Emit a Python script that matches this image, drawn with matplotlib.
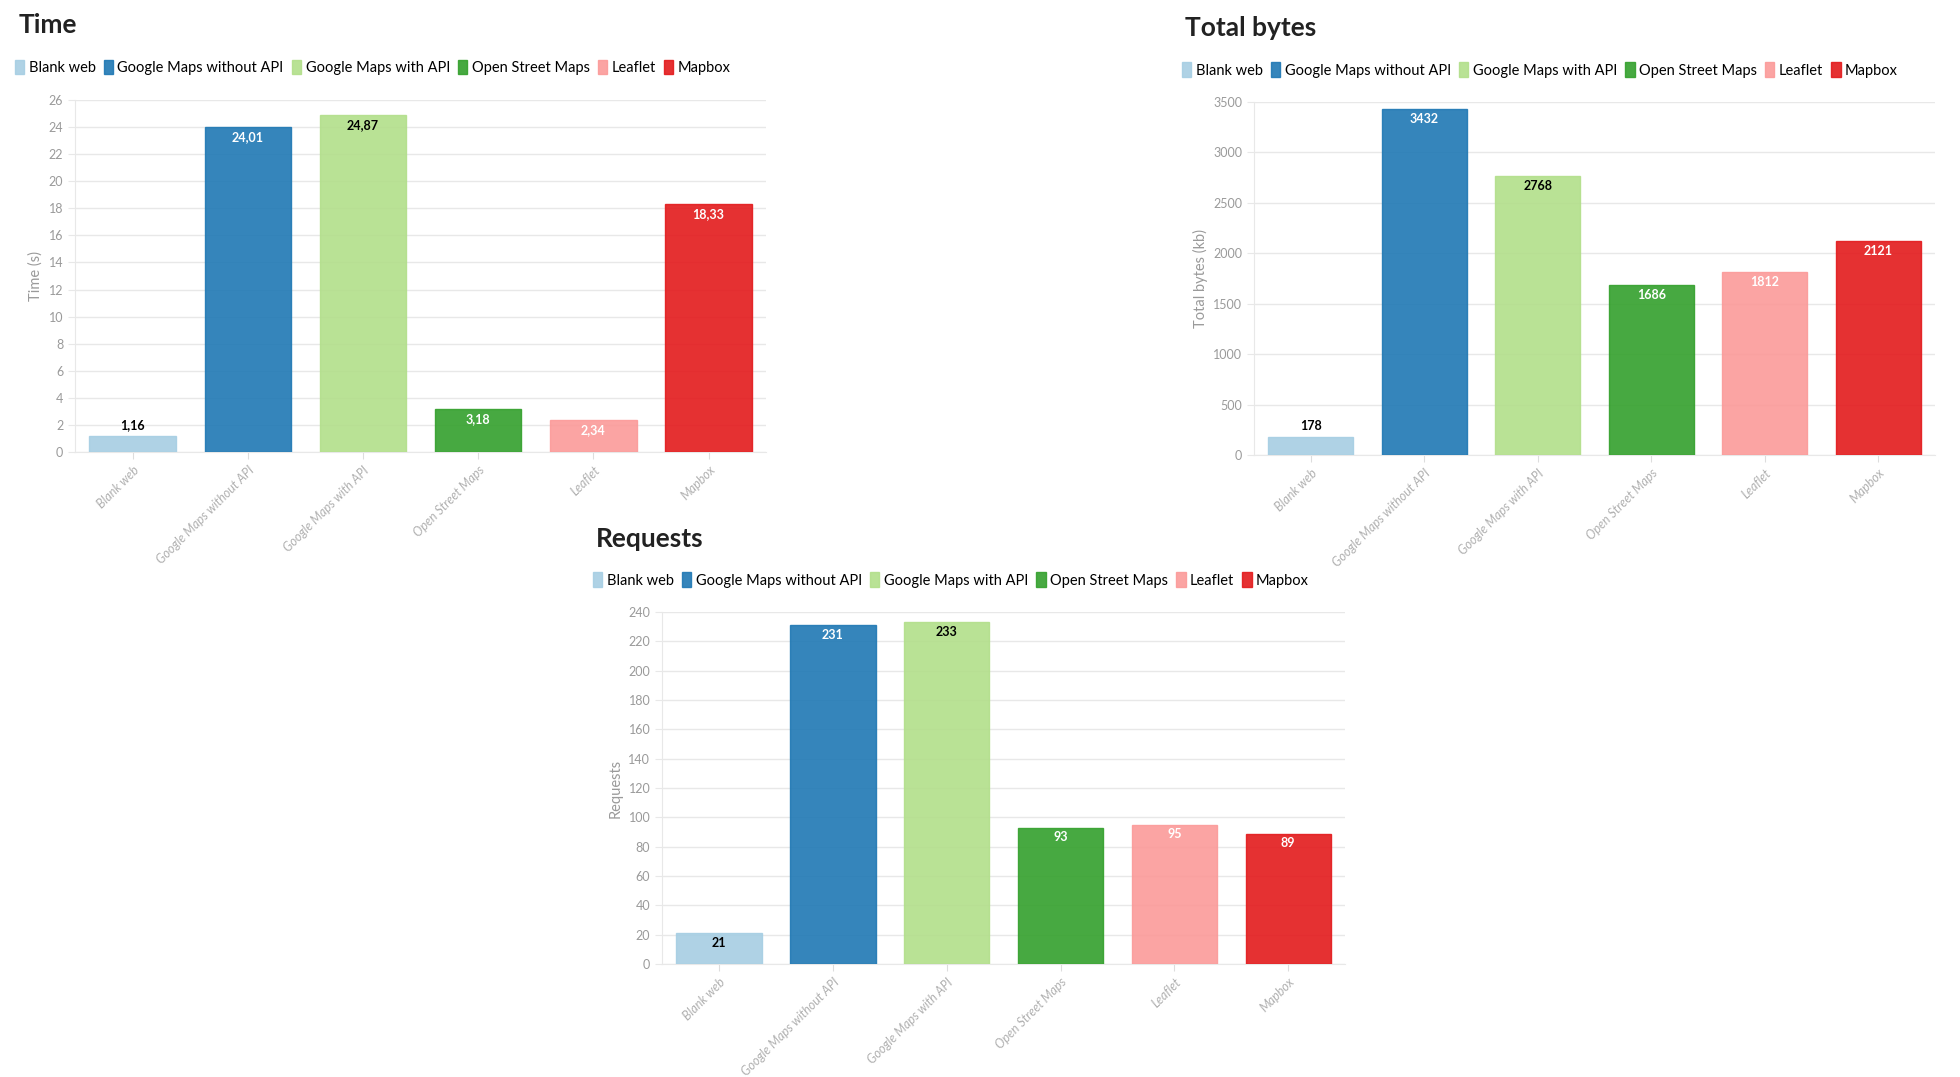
import matplotlib
matplotlib.use("Agg")
import matplotlib.pyplot as plt
from matplotlib.patches import Patch

plt.rcParams['font.family'] = ['Lato', 'DejaVu Sans']

# data
categories = ['Blank web', 'Google Maps without API', 'Google Maps with API',
              'Open Street Maps', 'Leaflet', 'Mapbox']
colors = ['#a6cee3', '#1f78b4', '#b2df8a', '#33a02c', '#fb9a99', '#e31a1c']
label_colors = ['black', 'white', 'black', 'white', 'white', 'white']

time_values = [1.16, 24.01, 24.87, 3.18, 2.34, 18.33]
bytes_values = [178, 3432, 2768, 1686, 1812, 2121]
requests_values = [21, 231, 233, 93, 95, 89]

GRID = '#e8e8e8'
TICK = '#9a9a9a'


def draw_panel(fig, rect, title, values, ylabel, ymax, ystep, fmt, title_pos, legend_pos):
    ax = fig.add_axes(rect)
    x = range(len(categories))
    ax.bar(x, values, width=0.75, color=colors, alpha=0.9,
           edgecolor=colors, linewidth=1, zorder=3)
    ax.set_xlim(-0.5, len(categories) - 0.5)
    ax.set_ylim(0, ymax)
    ax.set_yticks(range(0, ymax + 1, ystep))
    ax.grid(axis='y', color=GRID, linewidth=1, zorder=0)
    for s in ['top', 'right']:
        ax.spines[s].set_visible(False)
    for s in ['left', 'bottom']:
        ax.spines[s].set_color(GRID)
    ax.tick_params(axis='y', colors=GRID, labelcolor=TICK, labelsize=9, length=5)
    ax.tick_params(axis='x', colors='#dddddd', labelcolor='#b0b0b0', labelsize=9, length=5)
    ax.set_xticks(list(x))
    ax.set_xticklabels(categories, rotation=45, ha='right', rotation_mode='anchor',
                       style='italic')
    ax.set_ylabel(ylabel, color=TICK, fontsize=10.5)

    for i, v in enumerate(values):
        txt = fmt(v)
        if v / ymax < 0.07:
            ax.annotate(txt, (i, v), xytext=(0, 8), textcoords='offset points',
                        ha='center', va='center', fontsize=9, fontweight='bold',
                        color='black', zorder=5)
        else:
            ax.annotate(txt, (i, v), xytext=(0, -7), textcoords='offset points',
                        ha='center', va='center', fontsize=9, fontweight='bold',
                        color=label_colors[i], zorder=5)

    fig.text(title_pos[0], title_pos[1], title, fontsize=19, fontweight='bold',
             color='#222222', va='center', ha='left')
    handles = [Patch(facecolor=c, edgecolor=c, alpha=0.9) for c in colors]
    fig.legend(handles, categories, loc='center left', bbox_to_anchor=legend_pos,
               ncol=6, frameon=False, fontsize=10.5, handlelength=0.65,
               handleheight=1.15, handletextpad=0.3, columnspacing=0.55,
               borderaxespad=0, borderpad=0)
    return ax


fig = plt.figure(figsize=(19.6, 10.77), dpi=100)

draw_panel(fig, [0.0383, 0.5803, 0.3526, 0.3268], 'Time', time_values, 'Time (s)',
           26, 2, lambda v: f'{v:.2f}'.replace('.', ','),
           (0.0097, 0.977), (0.0075, 0.9375))
draw_panel(fig, [0.6398, 0.5775, 0.3474, 0.3278], 'Total bytes', bytes_values,
           'Total bytes (kb)', 3500, 500, lambda v: f'{v}',
           (0.6046, 0.974), (0.6030, 0.935))
draw_panel(fig, [0.3378, 0.1049, 0.3485, 0.3268], 'Requests', requests_values,
           'Requests', 240, 20, lambda v: f'{v}',
           (0.3041, 0.4995), (0.3025, 0.4615))

fig.savefig('out.png', dpi=100, facecolor='white')
